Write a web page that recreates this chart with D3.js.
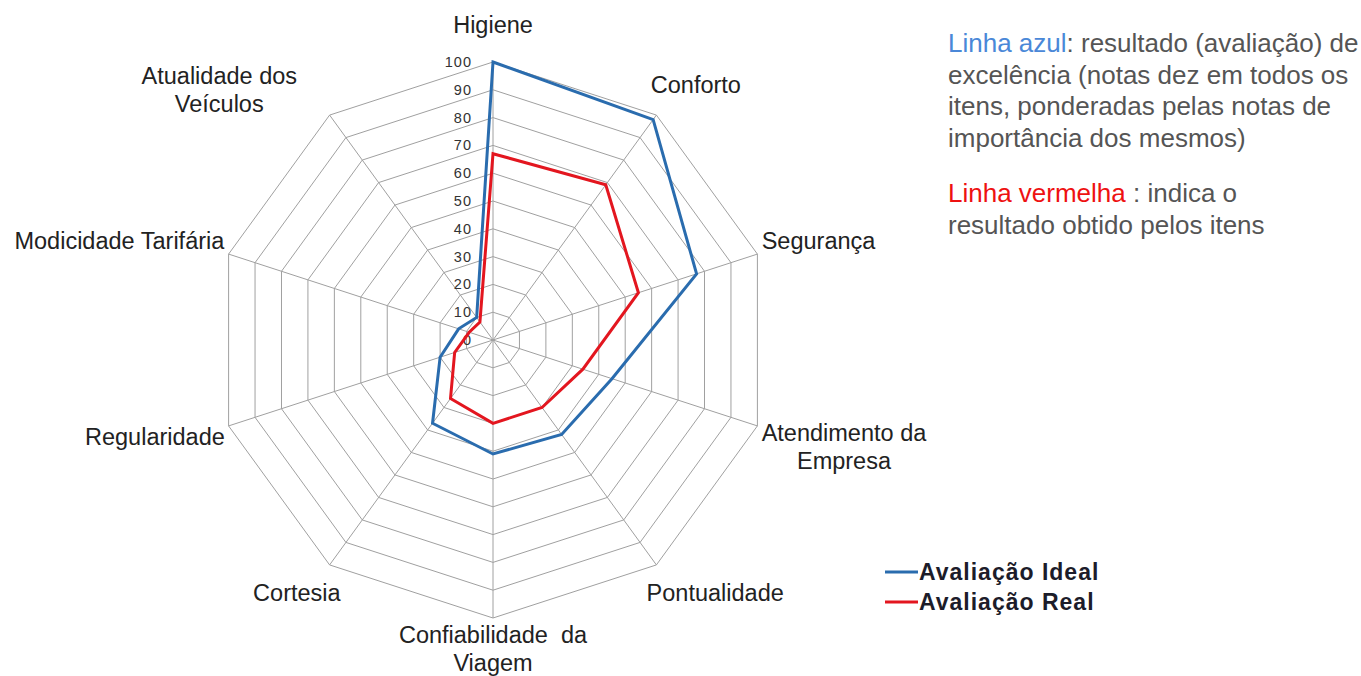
<!DOCTYPE html>
<html>
<head>
<meta charset="utf-8">
<script src="https://cdn.jsdelivr.net/npm/d3@7"></script>
<style>
  body { margin: 0; background: #fff; }
  svg { display: block; font-family: "Liberation Sans", Arial, sans-serif; }
</style>
</head>
<body>
<script>
// chart data
const categories = ["Higiene", "Conforto", "Segurança", "Atendimento da\nEmpresa", "Pontualidade",
    "Confiabilidade  da\nViagem", "Cortesia", "Regularidade", "Modicidade Tarifária", "Atualidade dos\nVeículos"];
const idealValues = [100, 98, 77, 45, 42, 41, 37, 20, 13, 10];
const realValues = [67, 69, 55, 34, 30, 30, 26, 14.5, 9, 8];
const seriesNames = ["Avaliação Ideal", "Avaliação Real"];
const tickValues = d3.range(0, 101, 10);

const W = 1361, H = 676;
const cx = 493, cy = 340, R = 278;
const n = categories.length;
const blue = "#2a6cae", red = "#e3161f";
// extra horizontal shift for labels that the wrap pushes away from the vertex
const labelShift = [0, 0, 0, 0, 0, 0, 6, 0, 0, -44];

const svg = d3.select("body").append("svg")
    .attr("width", W)
    .attr("height", H);

const r = d3.scaleLinear().domain([0, 100]).range([0, R]);
const angle = i => i * 2 * Math.PI / n;

const plot = svg.append("g").attr("transform", `translate(${cx},${cy})`);

// grid rings
const ring = d3.lineRadial()
    .angle((d, i) => angle(i))
    .radius(d => r(d))
    .curve(d3.curveLinearClosed);
tickValues.filter(t => t > 0).forEach(t => {
    plot.append("path")
        .attr("d", ring(categories.map(() => t)))
        .attr("fill", "none")
        .attr("stroke", "#a0a0a0")
        .attr("stroke-width", 1);
});
// spokes
categories.forEach((c, i) => {
    const a = angle(i);
    plot.append("line")
        .attr("x1", 0).attr("y1", 0)
        .attr("x2", r(100) * Math.sin(a))
        .attr("y2", -r(100) * Math.cos(a))
        .attr("stroke", "#a0a0a0")
        .attr("stroke-width", 1);
});

// tick labels along first axis
tickValues.forEach(t => {
    plot.append("text")
        .attr("x", -21)
        .attr("y", -r(t) + 5)
        .attr("text-anchor", "end")
        .attr("fill", "#333")
        .style("font-size", "14.5px")
        .style("letter-spacing", "1px")
        .text(t);
});

// series
[[idealValues, blue], [realValues, red]].forEach(([vals, col]) => {
    plot.append("path")
        .attr("d", ring(vals))
        .attr("fill", "none")
        .attr("stroke", col)
        .attr("stroke-width", 3)
        .attr("stroke-linejoin", "miter");
});

// category labels
const lineH = 28;
categories.forEach((c, i) => {
    const a = angle(i), s = Math.sin(a), co = Math.cos(a);
    const vx = cx + r(100) * s, vy = cy - r(100) * co;
    const lines = c.split("\n");
    const t = svg.append("text")
        .attr("text-anchor", "middle")
        .attr("fill", "#222")
        .style("font-size", "23.5px")
        .style("white-space", "pre");
    lines.forEach((l, j) => {
        t.append("tspan").attr("x", 0).attr("dy", j ? lineH : 0).text(l);
    });
    const w = t.node().getBBox().width, h = lines.length * lineH;
    const kx = Math.max(-1, Math.min(1, s * 1.4));
    const bx = vx + kx * (w / 2) + s * 4 + labelShift[i];
    const extra = (co < -0.1 && lines.length === 1) ? 4 : 0;
    const by = vy - co * 34 + (lines.length - 1) * 15 * s * s + extra;
    t.attr("transform", `translate(${bx},${by - h / 2 + 19})`);
});

// legend
const legend = svg.append("g").attr("transform", "translate(885,572)");
seriesNames.forEach((name, i) => {
    const g = legend.append("g").attr("transform", `translate(0,${i * 30})`);
    g.append("line")
        .attr("x1", 0).attr("x2", 33)
        .attr("stroke", i ? red : blue)
        .attr("stroke-width", 3);
    g.append("text")
        .attr("x", 34)
        .attr("y", 8)
        .attr("fill", "#1c1c2a")
        .style("font-size", "23px")
        .style("font-weight", "bold")
        .style("letter-spacing", "1px")
        .text(name);
});

// explanatory note
const note = [
    [["Linha azul", "#4a88d8"], [": resultado (avaliação) de", "#555"]],
    [["excelência (notas dez em todos os", "#555"]],
    [["itens, ponderadas pelas notas de", "#555"]],
    [["importância dos mesmos)", "#555"]],
    null,
    [["Linha vermelha", "#ee1111"], [" : indica o", "#555"]],
    [["resultado obtido pelos itens", "#555"]]
];
const noteG = svg.append("text")
    .attr("x", 948)
    .attr("y", 52)
    .style("font-size", "26px")
    .style("white-space", "pre");
let dyAcc = 0;
note.forEach((ln, i) => {
    if (!ln) { dyAcc += 24; return; }
    ln.forEach(([txt, col], k) => {
        const sp = noteG.append("tspan").attr("fill", col).text(txt);
        if (k === 0) sp.attr("x", 948).attr("dy", i === 0 ? 0 : 31.5 + dyAcc);
    });
    dyAcc = 0;
});
</script>
</body>
</html>
